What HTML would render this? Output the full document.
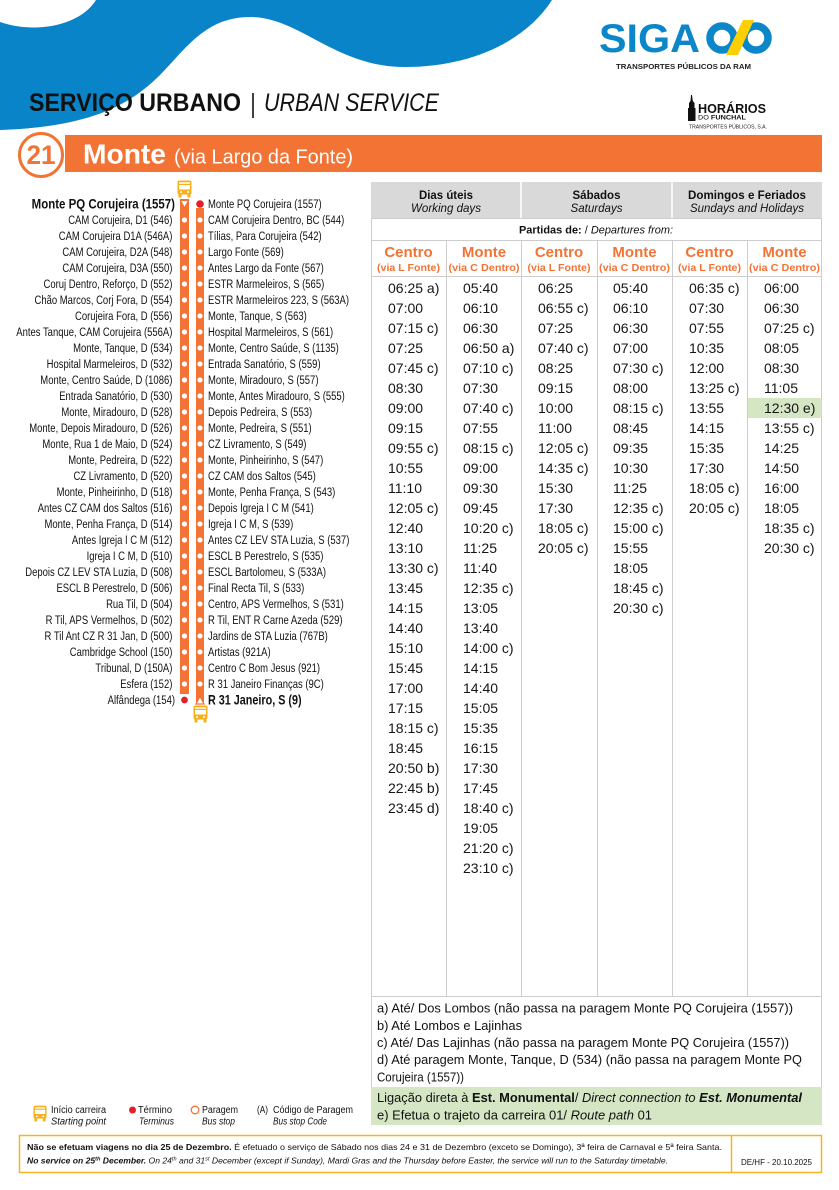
<!DOCTYPE html>
<html><head><meta charset="utf-8">
<style>
html,body{margin:0;padding:0;background:#fff;}
body{width:839px;height:1190px;overflow:hidden;}
svg{display:block;}
text{font-family:"Liberation Sans",Arial,sans-serif;}
</style></head><body>
<svg width="839" height="1190" viewBox="0 0 839 1190" xmlns="http://www.w3.org/2000/svg">
<defs>
<symbol id="bus" viewBox="0 0 15 18">
<rect x="0.5" y="0.5" width="14" height="14" rx="2" fill="#f6b01e"/>
<rect x="2" y="2.3" width="11" height="1.5" fill="#fff"/>
<rect x="2" y="5" width="11" height="4.5" fill="#fff"/>
<circle cx="4" cy="12" r="1" fill="#fff"/><circle cx="11" cy="12" r="1" fill="#fff"/>
<rect x="1.5" y="14" width="3" height="3.5" fill="#f6b01e"/><rect x="10.5" y="14" width="3" height="3.5" fill="#f6b01e"/>
</symbol>
</defs>

<!-- blue wave -->
<path d="M96,0 L552,0 C525,42 470,67 405,67 C335,67 300,17 250,17 C205,17 185,50 160,75 C130,105 90,127 0,130 L0,22 C35,34 80,26 96,0 Z" fill="#0984c9"/>

<!-- title -->
<text x="29" y="111" font-size="25" font-weight="bold" fill="#111" textLength="212" lengthAdjust="spacingAndGlyphs">SERVIÇO URBANO</text>
<line x1="253" y1="93" x2="253" y2="118" stroke="#111" stroke-width="1.6"/>
<text x="264" y="111" font-size="25" font-style="italic" fill="#111" textLength="175" lengthAdjust="spacingAndGlyphs">URBAN SERVICE</text>

<!-- SIGA logo -->
<text x="599" y="52" font-size="40" font-weight="bold" fill="#0b86c8" textLength="101" lengthAdjust="spacingAndGlyphs">SIGA</text>
<circle cx="722" cy="38" r="12" fill="none" stroke="#0b86c8" stroke-width="7.5"/>
<circle cx="756" cy="38" r="12" fill="none" stroke="#0b86c8" stroke-width="7.5"/>
<polygon points="743,20 754,20 738,55 726,55" fill="#fcd000"/>
<text x="616" y="69" font-size="7.5" font-weight="bold" fill="#222" textLength="135" lengthAdjust="spacingAndGlyphs">TRANSPORTES PÚBLICOS DA RAM</text>

<!-- Horarios logo -->
<polygon points="691,95 692,95 692.8,101 694.5,103 694.5,108 695.5,108 695.5,121 688,121 688,108 689,108 689,103 690.5,101" fill="#111"/>
<text x="698" y="113" font-size="12.5" font-weight="bold" fill="#111" textLength="68" lengthAdjust="spacingAndGlyphs">HORÁRIOS</text>
<text x="698" y="119.7" font-size="6.5" fill="#111" textLength="48" lengthAdjust="spacingAndGlyphs">DO <tspan font-weight="bold">FUNCHAL</tspan></text>
<text x="689" y="128.5" font-size="5.2" fill="#222" textLength="78" lengthAdjust="spacingAndGlyphs">TRANSPORTES PÚBLICOS, S.A.</text>

<!-- orange route bar -->
<rect x="65" y="135" width="757" height="37" fill="#f37335"/>
<circle cx="41" cy="155" r="21.5" fill="#fff" stroke="#f37335" stroke-width="3"/>
<text x="41" y="164" font-size="27" font-weight="bold" fill="#f37335" text-anchor="middle" textLength="29" lengthAdjust="spacingAndGlyphs">21</text>
<text x="83" y="163.5" font-size="28" font-weight="bold" fill="#fff" textLength="83" lengthAdjust="spacingAndGlyphs">Monte</text>
<text x="174" y="163.5" font-size="20" fill="#fff" textLength="179" lengthAdjust="spacingAndGlyphs">(via Largo da Fonte)</text>

<!-- route diagram -->
<rect x="180" y="199" width="9" height="495" fill="#f37335"/>
<rect x="196" y="208" width="8" height="496" fill="#f37335"/>
<use href="#bus" x="177" y="180" width="15" height="18"/>
<polygon points="180.5,200.5 188.5,200.5 184.5,208" fill="#fff" stroke="#f37335" stroke-width="1.2"/>
<circle cx="200" cy="204" r="3.8" fill="#e3202a"/>
<circle cx="184.5" cy="700" r="3.8" fill="#e3202a" stroke="#fff" stroke-width="0.8"/>
<polygon points="196,704 204,704 200,696.5" fill="#fff" stroke="#f37335" stroke-width="1.2"/>
<use href="#bus" x="193" y="705" width="15" height="18"/>
<g fill="#fff">
<circle cx="184.5" cy="220" r="2.6"/><circle cx="184.5" cy="236" r="2.6"/><circle cx="184.5" cy="252" r="2.6"/><circle cx="184.5" cy="268" r="2.6"/><circle cx="184.5" cy="284" r="2.6"/><circle cx="184.5" cy="300" r="2.6"/><circle cx="184.5" cy="316" r="2.6"/><circle cx="184.5" cy="332" r="2.6"/><circle cx="184.5" cy="348" r="2.6"/><circle cx="184.5" cy="364" r="2.6"/><circle cx="184.5" cy="380" r="2.6"/><circle cx="184.5" cy="396" r="2.6"/><circle cx="184.5" cy="412" r="2.6"/><circle cx="184.5" cy="428" r="2.6"/><circle cx="184.5" cy="444" r="2.6"/><circle cx="184.5" cy="460" r="2.6"/><circle cx="184.5" cy="476" r="2.6"/><circle cx="184.5" cy="492" r="2.6"/><circle cx="184.5" cy="508" r="2.6"/><circle cx="184.5" cy="524" r="2.6"/><circle cx="184.5" cy="540" r="2.6"/><circle cx="184.5" cy="556" r="2.6"/><circle cx="184.5" cy="572" r="2.6"/><circle cx="184.5" cy="588" r="2.6"/><circle cx="184.5" cy="604" r="2.6"/><circle cx="184.5" cy="620" r="2.6"/><circle cx="184.5" cy="636" r="2.6"/><circle cx="184.5" cy="652" r="2.6"/><circle cx="184.5" cy="668" r="2.6"/><circle cx="184.5" cy="684" r="2.6"/>
<circle cx="200" cy="220" r="2.6"/><circle cx="200" cy="236" r="2.6"/><circle cx="200" cy="252" r="2.6"/><circle cx="200" cy="268" r="2.6"/><circle cx="200" cy="284" r="2.6"/><circle cx="200" cy="300" r="2.6"/><circle cx="200" cy="316" r="2.6"/><circle cx="200" cy="332" r="2.6"/><circle cx="200" cy="348" r="2.6"/><circle cx="200" cy="364" r="2.6"/><circle cx="200" cy="380" r="2.6"/><circle cx="200" cy="396" r="2.6"/><circle cx="200" cy="412" r="2.6"/><circle cx="200" cy="428" r="2.6"/><circle cx="200" cy="444" r="2.6"/><circle cx="200" cy="460" r="2.6"/><circle cx="200" cy="476" r="2.6"/><circle cx="200" cy="492" r="2.6"/><circle cx="200" cy="508" r="2.6"/><circle cx="200" cy="524" r="2.6"/><circle cx="200" cy="540" r="2.6"/><circle cx="200" cy="556" r="2.6"/><circle cx="200" cy="572" r="2.6"/><circle cx="200" cy="588" r="2.6"/><circle cx="200" cy="604" r="2.6"/><circle cx="200" cy="620" r="2.6"/><circle cx="200" cy="636" r="2.6"/><circle cx="200" cy="652" r="2.6"/><circle cx="200" cy="668" r="2.6"/><circle cx="200" cy="684" r="2.6"/>
</g>

<!-- left stops -->
<g transform="translate(175 0) scale(0.85 1)">
<text x="0" y="208.5" font-size="13.5" font-weight="bold" fill="#111" text-anchor="end">Monte PQ Corujeira (1557)</text>
</g>
<g transform="translate(175 0) scale(0.79 1)">
<text font-size="12" fill="#111" text-anchor="end">
<tspan x="0" y="224">CAM Corujeira, D1 (546)</tspan>
<tspan x="0" y="240">CAM Corujeira D1A (546A)</tspan>
<tspan x="0" y="256">CAM Corujeira, D2A (548)</tspan>
<tspan x="0" y="272">CAM Corujeira, D3A (550)</tspan>
<tspan x="0" y="288">Coruj Dentro, Reforço, D (552)</tspan>
<tspan x="0" y="304">Chão Marcos, Corj Fora, D (554)</tspan>
<tspan x="0" y="320">Corujeira Fora, D (556)</tspan>
<tspan x="0" y="336">Antes Tanque, CAM Corujeira (556A)</tspan>
<tspan x="0" y="352">Monte, Tanque, D (534)</tspan>
<tspan x="0" y="368">Hospital Marmeleiros, D (532)</tspan>
<tspan x="0" y="384">Monte, Centro Saúde, D (1086)</tspan>
<tspan x="0" y="400">Entrada Sanatório, D (530)</tspan>
<tspan x="0" y="416">Monte, Miradouro, D (528)</tspan>
<tspan x="0" y="432">Monte, Depois Miradouro, D (526)</tspan>
<tspan x="0" y="448">Monte, Rua 1 de Maio, D (524)</tspan>
<tspan x="0" y="464">Monte, Pedreira, D (522)</tspan>
<tspan x="0" y="480">CZ Livramento, D (520)</tspan>
<tspan x="0" y="496">Monte, Pinheirinho, D (518)</tspan>
<tspan x="0" y="512">Antes CZ CAM dos Saltos (516)</tspan>
<tspan x="0" y="528">Monte, Penha França, D (514)</tspan>
<tspan x="0" y="544">Antes Igreja I C M (512)</tspan>
<tspan x="0" y="560">Igreja I C M, D (510)</tspan>
<tspan x="0" y="576">Depois CZ LEV STA Luzia, D (508)</tspan>
<tspan x="0" y="592">ESCL B Perestrelo, D (506)</tspan>
<tspan x="0" y="608">Rua Til, D (504)</tspan>
<tspan x="0" y="624">R Til, APS Vermelhos, D (502)</tspan>
<tspan x="0" y="640">R Til Ant CZ R 31 Jan, D (500)</tspan>
<tspan x="0" y="656">Cambridge School (150)</tspan>
<tspan x="0" y="672">Tribunal, D (150A)</tspan>
<tspan x="0" y="688">Esfera (152)</tspan>
<tspan x="0" y="704">Alfândega (154)</tspan>
</text>
</g>

<!-- right stops -->
<g transform="translate(208 0) scale(0.79 1)">
<text font-size="12" fill="#111">
<tspan x="0" y="208">Monte PQ Corujeira (1557)</tspan>
<tspan x="0" y="224">CAM Corujeira Dentro, BC (544)</tspan>
<tspan x="0" y="240">Tílias, Para Corujeira (542)</tspan>
<tspan x="0" y="256">Largo Fonte (569)</tspan>
<tspan x="0" y="272">Antes Largo da Fonte (567)</tspan>
<tspan x="0" y="288">ESTR Marmeleiros, S (565)</tspan>
<tspan x="0" y="304">ESTR Marmeleiros 223, S (563A)</tspan>
<tspan x="0" y="320">Monte, Tanque, S (563)</tspan>
<tspan x="0" y="336">Hospital Marmeleiros, S (561)</tspan>
<tspan x="0" y="352">Monte, Centro Saúde, S (1135)</tspan>
<tspan x="0" y="368">Entrada Sanatório, S (559)</tspan>
<tspan x="0" y="384">Monte, Miradouro, S (557)</tspan>
<tspan x="0" y="400">Monte, Antes Miradouro, S (555)</tspan>
<tspan x="0" y="416">Depois Pedreira, S (553)</tspan>
<tspan x="0" y="432">Monte, Pedreira, S (551)</tspan>
<tspan x="0" y="448">CZ Livramento, S (549)</tspan>
<tspan x="0" y="464">Monte, Pinheirinho, S (547)</tspan>
<tspan x="0" y="480">CZ CAM dos Saltos (545)</tspan>
<tspan x="0" y="496">Monte, Penha França, S (543)</tspan>
<tspan x="0" y="512">Depois Igreja I C M (541)</tspan>
<tspan x="0" y="528">Igreja I C M, S (539)</tspan>
<tspan x="0" y="544">Antes CZ LEV STA Luzia, S (537)</tspan>
<tspan x="0" y="560">ESCL B Perestrelo, S (535)</tspan>
<tspan x="0" y="576">ESCL Bartolomeu, S (533A)</tspan>
<tspan x="0" y="592">Final Recta Til, S (533)</tspan>
<tspan x="0" y="608">Centro, APS Vermelhos, S (531)</tspan>
<tspan x="0" y="624">R Til, ENT R Carne Azeda (529)</tspan>
<tspan x="0" y="640">Jardins de STA Luzia (767B)</tspan>
<tspan x="0" y="656">Artistas (921A)</tspan>
<tspan x="0" y="672">Centro C Bom Jesus (921)</tspan>
<tspan x="0" y="688">R 31 Janeiro Finanças (9C)</tspan>
</text>
</g>
<g transform="translate(208 0) scale(0.8 1)">
<text x="0" y="704.5" font-size="13.5" font-weight="bold" fill="#111">R 31 Janeiro, S (9)</text>
</g>

<!-- table -->
<rect x="371" y="182" width="451" height="36" fill="#d9d9da"/>
<line x1="521" y1="182" x2="521" y2="218" stroke="#fff" stroke-width="1.5"/>
<line x1="672" y1="182" x2="672" y2="218" stroke="#fff" stroke-width="1.5"/>
<rect x="371.5" y="218.5" width="450" height="778" fill="none" stroke="#cdcdcd" stroke-width="1"/>
<g stroke="#cdcdcd" stroke-width="1">
<line x1="371" y1="240.5" x2="822" y2="240.5"/>
<line x1="371" y1="276.5" x2="822" y2="276.5"/>
<line x1="446.5" y1="240" x2="446.5" y2="996"/>
<line x1="521.5" y1="240" x2="521.5" y2="996"/>
<line x1="597.5" y1="240" x2="597.5" y2="996"/>
<line x1="672.5" y1="240" x2="672.5" y2="996"/>
<line x1="747.5" y1="240" x2="747.5" y2="996"/>
<line x1="371.5" y1="996" x2="371.5" y2="1087"/>
<line x1="821.5" y1="996" x2="821.5" y2="1087"/>
</g>
<rect x="748" y="398" width="73.5" height="20" fill="#d5e6c4"/>

<g font-size="12" fill="#111" text-anchor="middle">
<text x="446" y="199" font-weight="bold" textLength="54" lengthAdjust="spacingAndGlyphs">Dias úteis</text>
<text x="446" y="212" font-style="italic" textLength="70" lengthAdjust="spacingAndGlyphs">Working days</text>
<text x="596.5" y="199" font-weight="bold" textLength="48" lengthAdjust="spacingAndGlyphs">Sábados</text>
<text x="596.5" y="212" font-style="italic" textLength="52" lengthAdjust="spacingAndGlyphs">Saturdays</text>
<text x="747" y="199" font-weight="bold" textLength="118" lengthAdjust="spacingAndGlyphs">Domingos e Feriados</text>
<text x="747" y="212" font-style="italic" textLength="114" lengthAdjust="spacingAndGlyphs">Sundays and Holidays</text>
</g>
<text x="519" y="233.5" font-size="11" fill="#111" textLength="154" lengthAdjust="spacingAndGlyphs"><tspan font-weight="bold">Partidas de:</tspan>  / <tspan font-style="italic">Departures from:</tspan></text>

<g fill="#f37335" font-weight="bold" text-anchor="middle">
<g font-size="15">
<text x="408.5" y="257">Centro</text>
<text x="484" y="257">Monte</text>
<text x="559" y="257">Centro</text>
<text x="634.5" y="257">Monte</text>
<text x="709.5" y="257">Centro</text>
<text x="784.5" y="257">Monte</text>
</g>
<g font-size="10.5">
<text x="408.5" y="271" textLength="63" lengthAdjust="spacingAndGlyphs">(via L Fonte)</text>
<text x="484" y="271" textLength="71" lengthAdjust="spacingAndGlyphs">(via C Dentro)</text>
<text x="559" y="271" textLength="63" lengthAdjust="spacingAndGlyphs">(via L Fonte)</text>
<text x="634.5" y="271" textLength="71" lengthAdjust="spacingAndGlyphs">(via C Dentro)</text>
<text x="709.5" y="271" textLength="63" lengthAdjust="spacingAndGlyphs">(via L Fonte)</text>
<text x="784.5" y="271" textLength="71" lengthAdjust="spacingAndGlyphs">(via C Dentro)</text>
</g>
</g>

<g font-size="14" fill="#151515">
<text y="293"><tspan x="388" dy="0">06:25 a)</tspan><tspan x="388" dy="20">07:00</tspan><tspan x="388" dy="20">07:15 c)</tspan><tspan x="388" dy="20">07:25</tspan><tspan x="388" dy="20">07:45 c)</tspan><tspan x="388" dy="20">08:30</tspan><tspan x="388" dy="20">09:00</tspan><tspan x="388" dy="20">09:15</tspan><tspan x="388" dy="20">09:55 c)</tspan><tspan x="388" dy="20">10:55</tspan><tspan x="388" dy="20">11:10</tspan><tspan x="388" dy="20">12:05 c)</tspan><tspan x="388" dy="20">12:40</tspan><tspan x="388" dy="20">13:10</tspan><tspan x="388" dy="20">13:30 c)</tspan><tspan x="388" dy="20">13:45</tspan><tspan x="388" dy="20">14:15</tspan><tspan x="388" dy="20">14:40</tspan><tspan x="388" dy="20">15:10</tspan><tspan x="388" dy="20">15:45</tspan><tspan x="388" dy="20">17:00</tspan><tspan x="388" dy="20">17:15</tspan><tspan x="388" dy="20">18:15 c)</tspan><tspan x="388" dy="20">18:45</tspan><tspan x="388" dy="20">20:50 b)</tspan><tspan x="388" dy="20">22:45 b)</tspan><tspan x="388" dy="20">23:45 d)</tspan></text>
<text y="293"><tspan x="463" dy="0">05:40</tspan><tspan x="463" dy="20">06:10</tspan><tspan x="463" dy="20">06:30</tspan><tspan x="463" dy="20">06:50 a)</tspan><tspan x="463" dy="20">07:10 c)</tspan><tspan x="463" dy="20">07:30</tspan><tspan x="463" dy="20">07:40 c)</tspan><tspan x="463" dy="20">07:55</tspan><tspan x="463" dy="20">08:15 c)</tspan><tspan x="463" dy="20">09:00</tspan><tspan x="463" dy="20">09:30</tspan><tspan x="463" dy="20">09:45</tspan><tspan x="463" dy="20">10:20 c)</tspan><tspan x="463" dy="20">11:25</tspan><tspan x="463" dy="20">11:40</tspan><tspan x="463" dy="20">12:35 c)</tspan><tspan x="463" dy="20">13:05</tspan><tspan x="463" dy="20">13:40</tspan><tspan x="463" dy="20">14:00 c)</tspan><tspan x="463" dy="20">14:15</tspan><tspan x="463" dy="20">14:40</tspan><tspan x="463" dy="20">15:05</tspan><tspan x="463" dy="20">15:35</tspan><tspan x="463" dy="20">16:15</tspan><tspan x="463" dy="20">17:30</tspan><tspan x="463" dy="20">17:45</tspan><tspan x="463" dy="20">18:40 c)</tspan><tspan x="463" dy="20">19:05</tspan><tspan x="463" dy="20">21:20 c)</tspan><tspan x="463" dy="20">23:10 c)</tspan></text>
<text y="293"><tspan x="538" dy="0">06:25</tspan><tspan x="538" dy="20">06:55 c)</tspan><tspan x="538" dy="20">07:25</tspan><tspan x="538" dy="20">07:40 c)</tspan><tspan x="538" dy="20">08:25</tspan><tspan x="538" dy="20">09:15</tspan><tspan x="538" dy="20">10:00</tspan><tspan x="538" dy="20">11:00</tspan><tspan x="538" dy="20">12:05 c)</tspan><tspan x="538" dy="20">14:35 c)</tspan><tspan x="538" dy="20">15:30</tspan><tspan x="538" dy="20">17:30</tspan><tspan x="538" dy="20">18:05 c)</tspan><tspan x="538" dy="20">20:05 c)</tspan></text>
<text y="293"><tspan x="613" dy="0">05:40</tspan><tspan x="613" dy="20">06:10</tspan><tspan x="613" dy="20">06:30</tspan><tspan x="613" dy="20">07:00</tspan><tspan x="613" dy="20">07:30 c)</tspan><tspan x="613" dy="20">08:00</tspan><tspan x="613" dy="20">08:15 c)</tspan><tspan x="613" dy="20">08:45</tspan><tspan x="613" dy="20">09:35</tspan><tspan x="613" dy="20">10:30</tspan><tspan x="613" dy="20">11:25</tspan><tspan x="613" dy="20">12:35 c)</tspan><tspan x="613" dy="20">15:00 c)</tspan><tspan x="613" dy="20">15:55</tspan><tspan x="613" dy="20">18:05</tspan><tspan x="613" dy="20">18:45 c)</tspan><tspan x="613" dy="20">20:30 c)</tspan></text>
<text y="293"><tspan x="689" dy="0">06:35 c)</tspan><tspan x="689" dy="20">07:30</tspan><tspan x="689" dy="20">07:55</tspan><tspan x="689" dy="20">10:35</tspan><tspan x="689" dy="20">12:00</tspan><tspan x="689" dy="20">13:25 c)</tspan><tspan x="689" dy="20">13:55</tspan><tspan x="689" dy="20">14:15</tspan><tspan x="689" dy="20">15:35</tspan><tspan x="689" dy="20">17:30</tspan><tspan x="689" dy="20">18:05 c)</tspan><tspan x="689" dy="20">20:05 c)</tspan></text>
<text y="293"><tspan x="764" dy="0">06:00</tspan><tspan x="764" dy="20">06:30</tspan><tspan x="764" dy="20">07:25 c)</tspan><tspan x="764" dy="20">08:05</tspan><tspan x="764" dy="20">08:30</tspan><tspan x="764" dy="20">11:05</tspan><tspan x="764" dy="20">12:30 e)</tspan><tspan x="764" dy="20">13:55 c)</tspan><tspan x="764" dy="20">14:25</tspan><tspan x="764" dy="20">14:50</tspan><tspan x="764" dy="20">16:00</tspan><tspan x="764" dy="20">18:05</tspan><tspan x="764" dy="20">18:35 c)</tspan><tspan x="764" dy="20">20:30 c)</tspan></text>
</g>

<!-- notes -->
<g font-size="13" fill="#111">
<text x="377" y="1012.5" textLength="416" lengthAdjust="spacingAndGlyphs">a) Até/ Dos Lombos (não passa na paragem Monte PQ Corujeira (1557))</text>
<text x="377" y="1029.8" textLength="145" lengthAdjust="spacingAndGlyphs">b) Até Lombos e Lajinhas</text>
<text x="377" y="1047" textLength="412" lengthAdjust="spacingAndGlyphs">c) Até/ Das Lajinhas (não passa na paragem Monte PQ Corujeira (1557))</text>
<text x="377" y="1064.2" textLength="425" lengthAdjust="spacingAndGlyphs">d) Até paragem Monte, Tanque, D (534) (não passa na paragem Monte PQ</text>
<text x="377" y="1081.5" textLength="87" lengthAdjust="spacingAndGlyphs">Corujeira (1557))</text>
</g>
<rect x="371" y="1087" width="451" height="38" fill="#d5e6c4"/>
<g font-size="13" fill="#111">
<text x="377" y="1102" textLength="425" lengthAdjust="spacingAndGlyphs">Ligação direta à <tspan font-weight="bold">Est. Monumental</tspan>/ <tspan font-style="italic">Direct connection to </tspan><tspan font-weight="bold" font-style="italic">Est. Monumental</tspan></text>
<text x="377" y="1119.5" textLength="275" lengthAdjust="spacingAndGlyphs">e) Efetua o trajeto da carreira 01/ <tspan font-style="italic">Route path</tspan> 01</text>
</g>

<!-- legend -->
<use href="#bus" x="33" y="1105" width="14" height="17"/>
<circle cx="132.5" cy="1110" r="3.5" fill="#e3202a"/>
<circle cx="195" cy="1110" r="3.8" fill="none" stroke="#f37335" stroke-width="1.3"/>
<g font-size="10" fill="#111">
<text x="51" y="1113" textLength="55" lengthAdjust="spacingAndGlyphs">Início carreira</text>
<text x="51" y="1124.5" font-style="italic" textLength="55" lengthAdjust="spacingAndGlyphs">Starting point</text>
<text x="138" y="1113" textLength="34" lengthAdjust="spacingAndGlyphs">Término</text>
<text x="139" y="1124.5" font-style="italic" textLength="35" lengthAdjust="spacingAndGlyphs">Terminus</text>
<text x="202" y="1113" textLength="36" lengthAdjust="spacingAndGlyphs">Paragem</text>
<text x="202" y="1124.5" font-style="italic" textLength="33" lengthAdjust="spacingAndGlyphs">Bus stop</text>
<text x="257" y="1113" textLength="11" lengthAdjust="spacingAndGlyphs">(A)</text>
<text x="273" y="1113" textLength="80" lengthAdjust="spacingAndGlyphs">Código de Paragem</text>
<text x="273" y="1124.5" font-style="italic" textLength="54" lengthAdjust="spacingAndGlyphs">Bus stop Code</text>
</g>

<!-- footer -->
<rect x="19.5" y="1135.5" width="802" height="37" fill="none" stroke="#f7b324" stroke-width="1.5"/>
<line x1="731.5" y1="1136" x2="731.5" y2="1173" stroke="#f7b324" stroke-width="1.5"/>
<g font-size="8.5" fill="#111">
<text x="27" y="1150" textLength="695" lengthAdjust="spacingAndGlyphs"><tspan font-weight="bold">Não se efetuam viagens no dia 25 de Dezembro.</tspan> É efetuado o serviço de Sábado nos dias 24 e 31 de Dezembro (exceto se Domingo), 3ª feira de Carnaval e 5ª feira Santa.</text>
<text x="27" y="1163.5" font-style="italic" textLength="641" lengthAdjust="spacingAndGlyphs"><tspan font-weight="bold">No service on 25<tspan font-size="5.5" dy="-3">th</tspan><tspan dy="3"> December.</tspan></tspan> On 24<tspan font-size="5.5" dy="-3">th</tspan><tspan dy="3"> and 31</tspan><tspan font-size="5.5" dy="-3">st</tspan><tspan dy="3"> December (except if Sunday), Mardi Gras and the Thursday before Easter, the service will run to the Saturday timetable.</tspan></text>
<text x="741" y="1165" textLength="71" lengthAdjust="spacingAndGlyphs">DE/HF - 20.10.2025</text>
</g>
</svg>
</body></html>
